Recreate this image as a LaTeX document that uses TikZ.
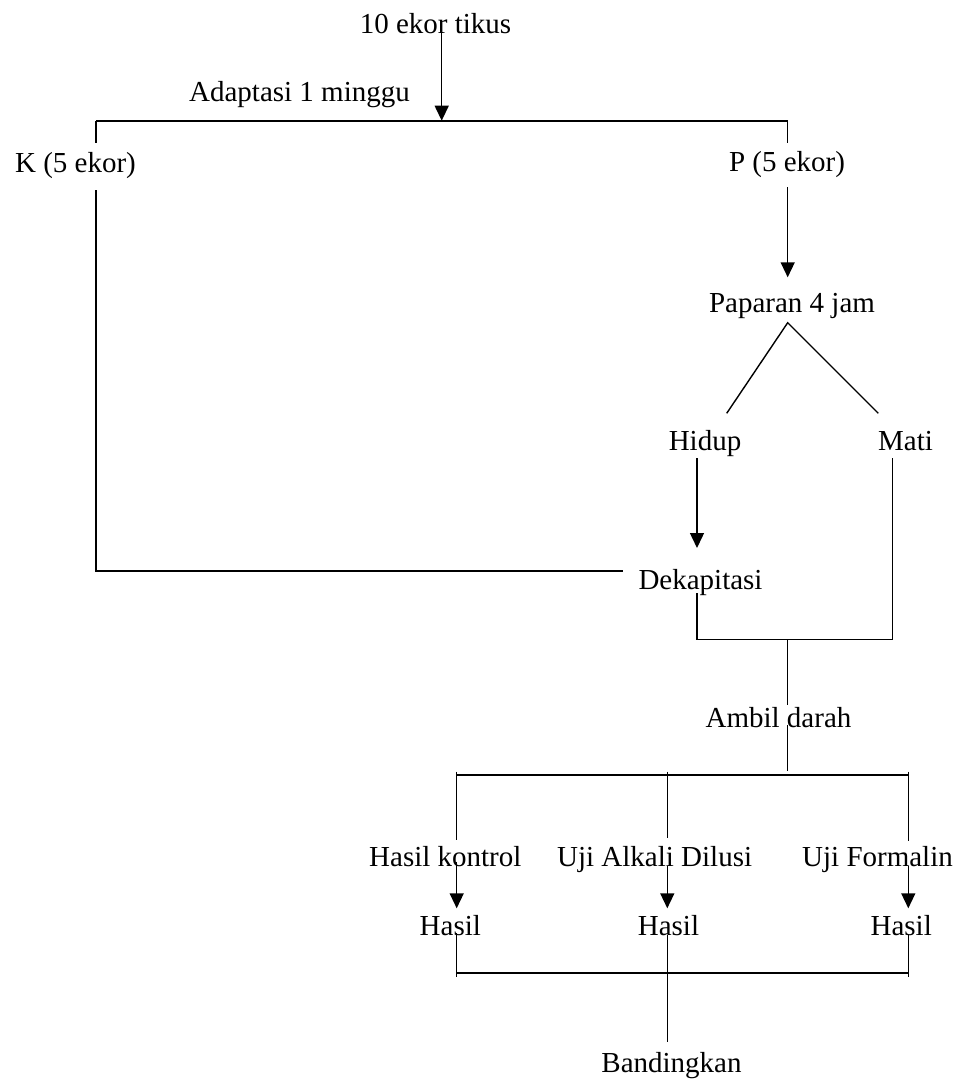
\documentclass[tikz,border=0pt]{standalone}
\usepackage{fontspec}
\setmainfont{Liberation Serif}
\usetikzlibrary{arrows.meta}
\begin{document}
\begin{tikzpicture}[x=0.5pt,y=-0.5pt,
  lbl/.style={inner sep=0pt,anchor=base,font=\fontsize{14.5}{17}\selectfont},
  ln/.style={line width=0.7pt},
  bar/.style={line width=0.9pt},
  arr/.style={line width=0.7pt,-{Triangle[width=7pt,length=7.5pt]}}]
\useasboundingbox (0,0) rectangle (961,1082);
% labels
\node[lbl] (tikus) at (435.5,33) {10 ekor tikus};
\node[lbl] (adapt) at (299.5,101.7) {Adaptasi 1 minggu};
\node[lbl] (K) at (75.5,172) {K (5 ekor)};
\node[lbl] (P) at (787,171.7) {P (5 ekor)};
\node[lbl] (pap) at (792,312) {Paparan 4 jam};
\node[lbl] (hidup) at (705,450.7) {Hidup};
\node[lbl] (mati) at (905.5,450.7) {Mati};
\node[lbl] (dek) at (700.5,589) {Dekapitasi};
\node[lbl] (ambil) at (778.5,727) {Ambil darah};
\node[lbl] (hk) at (445.3,866) {Hasil kontrol};
\node[lbl] (uad) at (654.6,866) {Uji Alkali Dilusi};
\node[lbl] (uf) at (877.5,866) {Uji Formalin};
\node[lbl] (h1) at (450.3,935) {Hasil};
\node[lbl] (h2) at (668.5,935) {Hasil};
\node[lbl] (h3) at (901.2,935) {Hasil};
\node[lbl] (band) at (671.5,1072) {Bandingkan};
% junction coordinates
\coordinate (tikusS) at (441.7,32);
\coordinate (tl) at (96,120.7);
\coordinate (tm) at (441.7,120.7);
\coordinate (tr) at (787.7,120.7);
\coordinate (Kn) at (96,142.7);
\coordinate (Ks) at (96,190);
\coordinate (Kc) at (96,571);
\coordinate (dekW) at (622.7,571);
\coordinate (Pn) at (787.7,142.7);
\coordinate (Ps) at (787.7,187.3);
\coordinate (papN) at (787.7,277.3);
\coordinate (apex) at (787.7,322.7);
\coordinate (hidN) at (726.7,413.3);
\coordinate (matN) at (878.3,413.3);
\coordinate (hidS) at (697,458);
\coordinate (dekN) at (697,548);
\coordinate (dekS) at (697,593);
\coordinate (jl) at (697,639.3);
\coordinate (jm) at (787.7,639.3);
\coordinate (jr) at (892.7,639.3);
\coordinate (matS) at (892.7,458);
\coordinate (ambN) at (787.7,705);
\coordinate (ambS) at (787.7,725);
\coordinate (ambB) at (787.7,771);
\coordinate (bl) at (456.7,774.7);
\coordinate (br) at (908.3,774.7);
\coordinate (blT) at (456.7,771.7);
\coordinate (bmT) at (667.3,771.7);
\coordinate (brT) at (908.3,771.7);
\coordinate (hkN) at (456.7,840);
\coordinate (uadN) at (667.3,838);
\coordinate (ufN) at (908.3,841);
\coordinate (hkS) at (456.7,861.7);
\coordinate (uadS) at (667.3,866);
\coordinate (ufS) at (908.3,866);
\coordinate (h1N) at (456.7,908.3);
\coordinate (h2N) at (667.3,908.3);
\coordinate (h3N) at (908.3,908.3);
\coordinate (h1S) at (456.7,933);
\coordinate (h2S) at (667.3,935);
\coordinate (h3S) at (908.3,935);
\coordinate (h1B) at (456.7,977.3);
\coordinate (h3B) at (908.3,977.3);
\coordinate (cl) at (456.7,973.3);
\coordinate (cr) at (908.3,973.3);
\coordinate (bandN) at (667.3,1041.7);
% connectors
\draw[arr] (tikusS) -- (tm);
\draw[bar] (tl) -- (tr);
\draw[ln] (tl) -- (Kn);
\draw[ln] (tr) -- (Pn);
\draw[ln] (Ks) -- (Kc) -- (dekW);
\draw[arr] (Ps) -- (papN);
\draw[ln] (hidN) -- (apex) -- (matN);
\draw[arr] (hidS) -- (dekN);
\draw[ln] (dekS) -- (jl) -- (jr) -- (matS);
\draw[ln] (jm) -- (ambN);
\draw[ln] (ambS) -- (ambB);
\draw[bar] (bl) -- (br);
\draw[ln] (blT) -- (hkN);
\draw[ln] (bmT) -- (uadN);
\draw[ln] (brT) -- (ufN);
\draw[arr] (hkS) -- (h1N);
\draw[arr] (uadS) -- (h2N);
\draw[arr] (ufS) -- (h3N);
\draw[ln] (h1S) -- (h1B);
\draw[ln] (h3S) -- (h3B);
\draw[ln] (h2S) -- (bandN);
\draw[bar] (cl) -- (cr);
\end{tikzpicture}
\end{document}
